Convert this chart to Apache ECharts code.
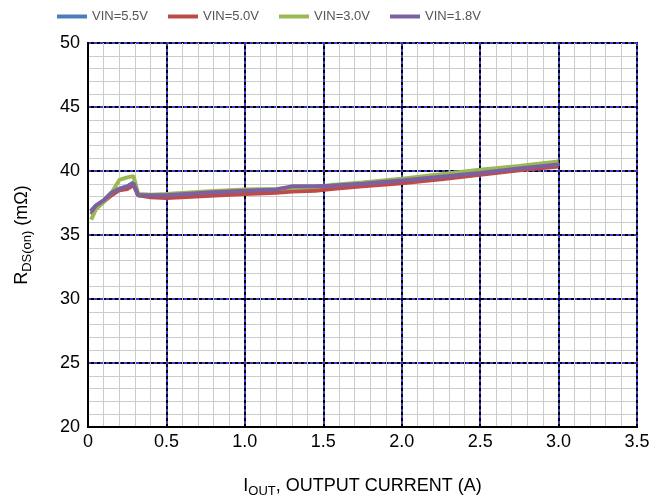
<!DOCTYPE html>
<html><head><meta charset="utf-8">
<script src="https://cdn.jsdelivr.net/npm/echarts@6/dist/echarts.min.js"></script>
<style>html,body{margin:0;padding:0;background:#fff}#c{width:653px;height:504px}</style>
</head><body><div id="c"></div>
<script>
const current = [0.02, 0.05, 0.1, 0.15, 0.2, 0.25, 0.29, 0.32, 0.4, 0.5, 0.75, 1.0, 1.2, 1.3, 1.45, 1.55, 1.75, 2.0, 2.25, 2.5, 2.75, 3.0];
const vin55 = [36.9, 37.3, 37.7, 38.3, 38.6, 38.8, 39.1, 38.1, 38.1, 38.1, 38.3, 38.4, 38.5, 38.7, 38.75, 38.8, 39.0, 39.25, 39.55, 39.85, 40.2, 40.5];
const vin50 = [36.6, 37.1, 37.6, 38.1, 38.5, 38.6, 38.9, 38.1, 37.95, 37.9, 38.05, 38.2, 38.3, 38.4, 38.45, 38.6, 38.8, 39.05, 39.35, 39.7, 40.05, 40.35];
const vin30 = [36.2, 37.0, 37.6, 38.3, 39.3, 39.5, 39.6, 38.2, 38.15, 38.2, 38.4, 38.55, 38.6, 38.7, 38.75, 38.9, 39.1, 39.4, 39.75, 40.1, 40.4, 40.75];
const vin18 = [36.8, 37.3, 37.7, 38.3, 38.6, 38.8, 39.05, 38.1, 38.1, 38.1, 38.3, 38.45, 38.55, 38.8, 38.8, 38.85, 39.0, 39.25, 39.55, 39.85, 40.2, 40.5];
const seriesNames = ['VIN=5.5V', 'VIN=5.0V', 'VIN=3.0V', 'VIN=1.8V'];
const seriesColors = ['#4a7ebb', '#be4b48', '#98b954', '#7d60a0'];
const seriesData = [vin55, vin50, vin30, vin18];

const font = "'Liberation Sans',Arial,sans-serif";
const chart = echarts.init(document.getElementById('c'));
const gridLine = {show:true, lineStyle:{color:'#000', width:2}};
const dashLine = {show:true, lineStyle:{color:'#3a3acc', width:2, type:[3,3]}};
const minorLine = {show:true, lineStyle:{color:'#cccccc', width:1}};
chart.setOption({
  animation:false,
  legend:{left:52, top:5, icon:'rect', itemWidth:30, itemHeight:4, itemGap:20,
    textStyle:{fontFamily:font, fontSize:13, color:'#555'}, data:seriesNames},
  grid:{left:88, right:16, top:43, bottom:77, show:true, borderColor:'#000', borderWidth:2},
  xAxis:[{type:'value', min:0, max:3.5, interval:0.5,
    axisLine:{show:true, onZero:false, lineStyle:{color:'#000', width:2}},
    axisTick:{show:false},
    axisLabel:{fontFamily:font, fontSize:18, color:'#000', margin:6,
      formatter:v=> v===0 ? '0' : v.toFixed(1)},
    minorTick:{show:false, splitNumber:5}, minorSplitLine:minorLine, splitLine:gridLine,
    name:'{a|I}{b|OUT}{a|, OUTPUT CURRENT (A)}', nameLocation:'middle', nameGap:48,
    nameTextStyle:{rich:{a:{fontFamily:font, fontSize:18, color:'#000'},
      b:{fontFamily:font, fontSize:13, color:'#000', padding:[10,0,0,0]}}}},
   {type:'value', min:0, max:3.5, interval:0.5, position:'bottom',
    axisLine:{show:false}, axisTick:{show:false}, axisLabel:{show:false}, splitLine:dashLine}],
  yAxis:[{type:'value', min:20, max:50, interval:5,
    axisLine:{show:true, lineStyle:{color:'#000', width:2}},
    axisTick:{show:false},
    axisLabel:{fontFamily:font, fontSize:18, color:'#000', margin:8},
    minorTick:{show:false, splitNumber:5}, minorSplitLine:minorLine, splitLine:gridLine,
    name:'{a|R}{b|DS(on)}{a| (mΩ)}', nameLocation:'middle', nameGap:54, nameRotate:90,
    nameTextStyle:{rich:{a:{fontFamily:font, fontSize:18, color:'#000'},
      b:{fontFamily:font, fontSize:13, color:'#000', padding:[10,0,0,0]}}}},
   {type:'value', min:20, max:50, interval:5, position:'left',
    axisLine:{show:false}, axisTick:{show:false}, axisLabel:{show:false}, splitLine:dashLine}],
  series: seriesNames.map((n,i)=>({
    name:n, type:'line', xAxisIndex:0, yAxisIndex:0, showSymbol:false, symbol:'none',
    color:seriesColors[i], lineStyle:{width:4, color:seriesColors[i]},
    data: current.map((x,j)=>[x, seriesData[i][j]])
  }))
});
</script></body></html>
